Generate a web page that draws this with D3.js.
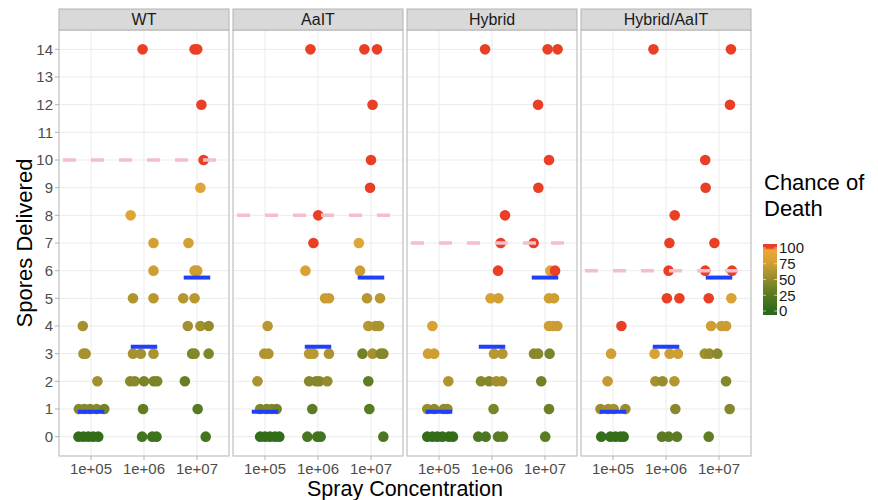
<!DOCTYPE html>
<html>
<head>
<meta charset="utf-8">
<script src="https://cdn.jsdelivr.net/npm/d3@7"></script>
<style>
  body { margin: 0; background: #fff; }
  text { font-family: "Liberation Sans", Arial, sans-serif; }
</style>
</head>
<body>
<div id="chart"></div>
<script>
// facet panels
const strains = ["WT", "AaIT", "Hybrid", "Hybrid/AaIT"];
const thresholds = [10, 8, 7, 6];
const concLevels = [1e5, 1e6, 1e7];
const meanSpores = [0.9, 3.25, 5.75];
const yTicks = [0, 1, 2, 3, 4, 5, 6, 7, 8, 9, 10, 11, 12, 13, 14];
const legendTicks = [0, 25, 50, 75, 100];

// [spray concentration (jittered), spores delivered, chance of death]
const wtPoints = [
  [9.4e5, 14, 100], [9.0e6, 14, 100], [1.01e7, 14, 100], [1.21e7, 12, 100], [1.33e7, 10, 100],
  [1.16e7, 9, 88], [5.6e5, 8, 86], [1.51e6, 7, 78], [6.9e6, 7, 78],
  [1.51e6, 6, 74], [9.0e6, 6, 74], [1.01e7, 6, 74],
  [6.2e5, 5, 62], [1.51e6, 5, 66], [5.5e6, 5, 64], [9.0e6, 5, 66],
  [7.0e4, 4, 58], [6.7e6, 4, 56], [1.16e7, 4, 56], [1.66e7, 4, 50],
  [7.2e4, 3, 58], [7.9e4, 3, 58], [6.2e5, 3, 58], [8.7e5, 3, 58], [1.51e6, 3, 60],
  [8.1e6, 3, 42], [9.0e6, 3, 44], [1.66e7, 3, 42],
  [1.32e5, 2, 56], [5.5e5, 2, 46], [6.7e5, 2, 46], [1.0e6, 2, 40], [1.53e6, 2, 40], [1.77e6, 2, 40], [5.9e6, 2, 32],
  [5.9e4, 1, 44], [7.5e4, 1, 44], [9.6e4, 1, 44], [1.28e5, 1, 44], [1.78e5, 1, 38], [9.6e5, 1, 30], [1.03e7, 1, 26],
  [5.8e4, 0, 5], [7.2e4, 0, 5], [8.9e4, 0, 5], [1.1e5, 0, 5], [1.37e5, 0, 5],
  [9.2e5, 0, 16], [1.43e6, 0, 12], [1.72e6, 0, 12], [1.46e7, 0, 16]
];
const aaitPoints = [
  [7.2e5, 14, 100], [7.5e6, 14, 100], [1.30e7, 14, 100], [1.07e7, 12, 100], [1.0e7, 10, 100],
  [9.6e6, 9, 100], [1.01e6, 8, 100], [8.2e5, 7, 100], [5.9e6, 7, 88],
  [5.8e5, 6, 80], [6.2e6, 6, 74],
  [1.36e6, 5, 72], [1.61e6, 5, 72], [8.4e6, 5, 64], [1.48e7, 5, 66],
  [1.12e5, 4, 66], [8.9e6, 4, 64], [1.22e7, 4, 62], [1.42e7, 4, 60],
  [9.7e4, 3, 62], [1.16e5, 3, 62], [6.8e5, 3, 66], [8.2e5, 3, 66], [1.61e6, 3, 60],
  [6.9e6, 3, 36], [1.07e7, 3, 58], [1.52e7, 3, 44], [1.71e7, 3, 44],
  [7.2e4, 2, 60], [6.8e5, 2, 44], [9.2e5, 2, 44], [1.06e6, 2, 44], [1.5e6, 2, 50], [8.9e6, 2, 30],
  [8.1e4, 1, 42], [1.07e5, 1, 42], [1.34e5, 1, 42], [1.66e5, 1, 38], [7.8e5, 1, 28], [9.3e6, 1, 26],
  [8.1e4, 0, 5], [1.0e5, 0, 5], [1.24e5, 0, 5], [1.54e5, 0, 5], [1.86e5, 0, 5],
  [6.3e5, 0, 18], [9.7e5, 0, 14], [1.12e6, 0, 14], [1.71e7, 0, 20]
];
const hybridPoints = [
  [7.4e5, 14, 100], [1.12e7, 14, 100], [1.73e7, 14, 100], [7.4e6, 12, 100], [1.19e7, 10, 100],
  [7.5e6, 9, 100], [1.76e6, 8, 100], [1.46e6, 7, 100], [6.1e6, 7, 100],
  [1.30e6, 6, 100], [1.26e7, 6, 86], [1.55e7, 6, 100],
  [9.4e5, 5, 80], [1.32e6, 5, 76], [1.19e7, 5, 76], [1.48e7, 5, 74],
  [7.5e4, 4, 80], [1.19e7, 4, 74], [1.42e7, 4, 74], [1.71e7, 4, 72],
  [6.2e4, 3, 76], [8.1e4, 3, 74], [1.09e6, 3, 66], [1.57e6, 3, 64],
  [6.2e6, 3, 46], [7.4e6, 3, 46], [1.22e7, 3, 40],
  [1.5e5, 2, 62], [6.2e5, 2, 44], [8.8e5, 2, 44], [1.21e6, 2, 56], [1.55e6, 2, 56], [8.5e6, 2, 36],
  [6.0e4, 1, 52], [8.1e4, 1, 48], [1.24e5, 1, 48], [1.44e5, 1, 50], [1.07e6, 1, 40], [1.19e7, 1, 34],
  [6.0e4, 0, 5], [7.5e4, 0, 5], [9.3e4, 0, 5], [1.16e5, 0, 5], [1.54e5, 0, 5], [1.83e5, 0, 5],
  [5.5e5, 0, 20], [7.6e5, 0, 20], [1.30e6, 0, 28], [1.61e6, 0, 28], [1.01e7, 0, 28]
];
const hybridAaitPoints = [
  [5.8e5, 14, 100], [1.68e7, 14, 100], [1.61e7, 12, 100], [5.5e6, 10, 100],
  [5.6e6, 9, 100], [1.46e6, 8, 100], [1.16e6, 7, 100], [8.2e6, 7, 100],
  [1.12e6, 6, 100], [5.5e6, 6, 100], [1.76e7, 6, 100],
  [1.04e6, 5, 100], [1.79e6, 5, 100], [6.4e6, 5, 100], [1.71e7, 5, 82],
  [1.44e5, 4, 100], [7.1e6, 4, 74], [1.11e7, 4, 72], [1.36e7, 4, 72],
  [9.2e4, 3, 76], [6.1e5, 3, 80], [1.17e6, 3, 74], [1.68e6, 3, 74],
  [5.4e6, 3, 56], [6.6e6, 3, 52], [9.3e6, 3, 46],
  [7.9e4, 2, 70], [6.3e5, 2, 58], [8.6e5, 2, 52], [1.44e6, 2, 64], [1.36e7, 2, 44],
  [5.8e4, 1, 54], [8.1e4, 1, 56], [1.03e5, 1, 56], [1.71e5, 1, 52], [1.5e6, 1, 46], [1.59e7, 1, 44],
  [6.0e4, 0, 6], [8.9e4, 0, 6], [1.11e5, 0, 6], [1.38e5, 0, 6], [1.59e5, 0, 6],
  [8.4e5, 0, 28], [1.12e6, 0, 28], [1.61e6, 0, 28], [6.4e6, 0, 30]
];
const panelPoints = [wtPoints, aaitPoints, hybridPoints, hybridAaitPoints];

const W = 878, H = 500;
const panelLeft = 59, panelTop = 30, panelW = 170, panelH = 426, panelStep = 174;

const svg = d3.select("#chart").append("svg")
  .attr("width", W).attr("height", H);

const x = d3.scaleLog()
  .domain([Math.pow(10, 4.396), Math.pow(10, 7.604)])
  .range([0, panelW]);

const y = d3.scaleLinear()
  .domain([-0.7, 14.7])
  .range([panelH, 0]);

const color = d3.scaleLinear()
  .domain([0, 25, 50, 75, 97, 100])
  .range(["#2a6a18", "#557a22", "#938b2c", "#d09f33", "#eda838", "#ea3f25"])
  .clamp(true);

strains.forEach(function (name, i) {
  let g = svg.append("g")
    .attr("transform", "translate(" + (panelLeft + i * panelStep) + "," + panelTop + ")");

  // grid
  g.selectAll("line.hgrid").data(yTicks).enter().append("line")
    .attr("x1", 0).attr("x2", panelW)
    .attr("y1", d => y(d)).attr("y2", d => y(d))
    .attr("stroke", "#ebebeb").attr("stroke-width", 1);
  g.selectAll("line.vgrid").data(concLevels).enter().append("line")
    .attr("x1", d => x(d)).attr("x2", d => x(d))
    .attr("y1", 0).attr("y2", panelH)
    .attr("stroke", "#ebebeb").attr("stroke-width", 1);

  // points
  g.selectAll("circle").data(panelPoints[i]).enter().append("circle")
    .attr("cx", d => x(d[0]))
    .attr("cy", d => y(d[1]))
    .attr("r", 5.3)
    .attr("fill", d => color(d[2]));

  // mean lines
  g.selectAll("line.mean").data(concLevels).enter().append("line")
    .attr("x1", d => x(d / Math.pow(10, 0.25)))
    .attr("x2", d => x(d * Math.pow(10, 0.25)))
    .attr("y1", (d, j) => y(meanSpores[j]))
    .attr("y2", (d, j) => y(meanSpores[j]))
    .attr("stroke", "#1f3ffb").attr("stroke-width", 4);

  // threshold line
  g.append("line")
    .attr("x1", 0).attr("x2", panelW)
    .attr("y1", y(thresholds[i])).attr("y2", y(thresholds[i]))
    .attr("stroke", "#f3bfcb").attr("stroke-width", 3.5)
    .attr("stroke-dasharray", "13,15")
    .attr("stroke-dashoffset", -4);

  // border
  g.append("rect")
    .attr("width", panelW).attr("height", panelH)
    .attr("fill", "none").attr("stroke", "#b3b3b3").attr("stroke-width", 1);

  // strip
  g.append("rect")
    .attr("y", -21).attr("width", panelW).attr("height", 21)
    .attr("fill", "#d9d9d9").attr("stroke", "#b3b3b3").attr("stroke-width", 1);
  g.append("text")
    .attr("x", panelW / 2).attr("y", -5)
    .attr("text-anchor", "middle")
    .attr("font-size", 16).attr("fill", "#1a1a1a")
    .text(name);

  // x axis
  let xa = g.append("g").attr("transform", "translate(0," + panelH + ")");
  xa.selectAll("line").data(concLevels).enter().append("line")
    .attr("x1", d => x(d)).attr("x2", d => x(d))
    .attr("y1", 0).attr("y2", 4)
    .attr("stroke", "#b3b3b3");
  xa.selectAll("text").data(concLevels).enter().append("text")
    .attr("x", d => x(d)).attr("y", 18)
    .attr("text-anchor", "middle")
    .attr("font-size", 15).attr("fill", "#4d4d4d")
    .text(d => d3.format(".0e")(d).replace("e+", "e+0"));
});

// y axis
let ya = svg.append("g").attr("transform", "translate(" + panelLeft + "," + panelTop + ")");
ya.selectAll("line").data(yTicks).enter().append("line")
  .attr("x1", -4).attr("x2", 0)
  .attr("y1", d => y(d)).attr("y2", d => y(d))
  .attr("stroke", "#b3b3b3");
ya.selectAll("text").data(yTicks).enter().append("text")
  .attr("x", -6).attr("y", d => y(d)).attr("dy", "0.36em")
  .attr("text-anchor", "end")
  .attr("font-size", 15).attr("fill", "#4d4d4d")
  .text(d => d);

// axis titles
svg.append("text")
  .attr("x", panelLeft + (3 * panelStep + panelW) / 2).attr("y", 496)
  .attr("text-anchor", "middle")
  .attr("font-size", 21.5).attr("fill", "#000")
  .text("Spray Concentration");
svg.append("text")
  .attr("transform", "translate(32," + (panelTop + panelH / 2) + ") rotate(-90)")
  .attr("text-anchor", "middle")
  .attr("font-size", 22).attr("fill", "#000")
  .text("Spores Delivered");

// legend
let lg = svg.append("g").attr("transform", "translate(763,0)");
lg.append("text").attr("x", 1).attr("y", 190)
  .attr("font-size", 22).attr("fill", "#000").text("Chance of");
lg.append("text").attr("x", 1).attr("y", 216)
  .attr("font-size", 22).attr("fill", "#000").text("Death");

let lgScale = d3.scaleLinear().domain([0, 100]).range([311, 248]);
let grad = svg.append("defs").append("linearGradient")
  .attr("id", "deathGradient")
  .attr("x1", "0%").attr("x2", "0%").attr("y1", "100%").attr("y2", "0%");
d3.range(0, 101, 1).forEach(function (v) {
  grad.append("stop")
    .attr("offset", (lgScale(0) + 4 - lgScale(v)) / (lgScale(0) - lgScale(100) + 8) * 100 + "%")
    .attr("stop-color", color(v));
});
lg.append("rect")
  .attr("x", 0).attr("y", lgScale(100) - 4)
  .attr("width", 14).attr("height", lgScale(0) - lgScale(100) + 8)
  .attr("fill", "url(#deathGradient)");
lg.selectAll("line.lt").data(legendTicks).enter().append("line")
  .attr("x1", 0).attr("x2", 3)
  .attr("y1", d => lgScale(d)).attr("y2", d => lgScale(d))
  .attr("stroke", "#fff").attr("stroke-opacity", 0.6);
lg.selectAll("line.rt").data(legendTicks).enter().append("line")
  .attr("x1", 11).attr("x2", 14)
  .attr("y1", d => lgScale(d)).attr("y2", d => lgScale(d))
  .attr("stroke", "#fff").attr("stroke-opacity", 0.6);
lg.selectAll("text.lab").data(legendTicks).enter().append("text")
  .attr("x", 16).attr("y", d => lgScale(d)).attr("dy", "0.36em")
  .attr("font-size", 15).attr("fill", "#1a1a1a")
  .text(d => d);
</script>
</body>
</html>
